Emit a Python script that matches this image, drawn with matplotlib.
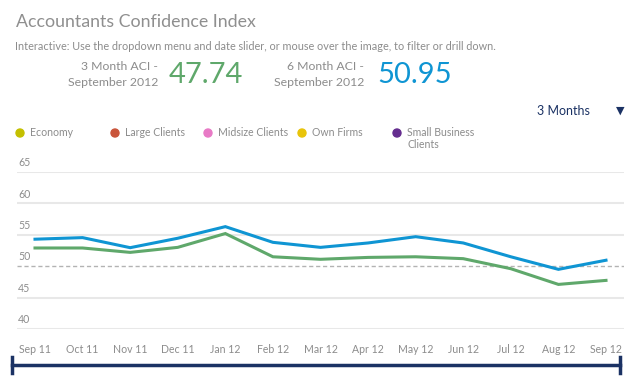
import numpy as np
import matplotlib.pyplot as plt
from matplotlib.patches import Circle

plt.rcParams['font.family'] = ['Lato', 'DejaVu Sans']

months = ['Sep 11', 'Oct 11', 'Nov 11', 'Dec 11', 'Jan 12', 'Feb 12', 'Mar 12',
          'Apr 12', 'May 12', 'Jun 12', 'Jul 12', 'Aug 12', 'Sep 12']
aci_6m = [54.3, 54.55, 52.95, 54.45, 56.3, 53.8, 53.0, 53.7, 54.7, 53.7, 51.5, 49.5, 50.95]
aci_3m = [52.9, 52.9, 52.2, 53.0, 55.2, 51.5, 51.1, 51.4, 51.5, 51.2, 49.6, 47.1, 47.74]
yticks = [40, 45, 50, 55, 60, 65]
legend_names = ['Economy', 'Large Clients', 'Midsize Clients', 'Own Firms', 'Small Business\nClients']
legend_colors = ['#c4c000', '#c9553b', '#e87ac6', '#e8c40a', '#652d8f']

gray = '#8c8c8c'
green = '#5fa86b'
blue = '#0f95d3'
navy = '#1b3264'
narrow = ['DejaVu Sans Condensed', 'Lato', 'DejaVu Sans']

fig = plt.figure(figsize=(6.34, 3.85), dpi=100)
W, H = 634, 385

def fx(px):
    return px / W

def fy(py):
    return 1 - py / H

# header
fig.text(fx(16), fy(22), 'Accountants Confidence Index', fontsize=12.8, color='#8f8f8f', va='center')
fig.text(fx(15), fy(46), 'Interactive: Use the dropdown menu and date slider, or mouse over the image, to filter or drill down.',
         fontsize=7.8, color=gray, va='center')
fig.text(fx(158), fy(67), '3 Month ACI -', fontsize=8.8, color=gray, ha='right', va='center', family=narrow)
fig.text(fx(158), fy(82), 'September 2012', fontsize=8.8, color=gray, ha='right', va='center', family=narrow)
fig.text(fx(169), fy(75), f'{aci_3m[-1]:.2f}', fontsize=21, color=green, va='center', family=narrow)
fig.text(fx(364), fy(67), '6 Month ACI -', fontsize=8.8, color=gray, ha='right', va='center', family=narrow)
fig.text(fx(364), fy(82), 'September 2012', fontsize=8.8, color=gray, ha='right', va='center', family=narrow)
fig.text(fx(377), fy(75), f'{aci_6m[-1]:.2f}', fontsize=21, color=blue, va='center', family=narrow)

# dropdown
fig.text(fx(537), fy(111), '3 Months', fontsize=9, color=navy, va='center')
fig.text(fx(620), fy(111), '\u25bc', fontsize=8, color=navy, ha='center', va='center', family='DejaVu Sans')

# legend
leg_x = [20, 115, 208, 302, 397]
for x, name, c in zip(leg_x, legend_names, legend_colors):
    dot = Circle((x / 100, (H - 133) / 100), 0.04, transform=fig.dpi_scale_trans, color=c)
    fig.patches.append(dot)
    fig.text(fx(x + 10), fy(127), name, fontsize=7.6, color=gray, va='top', linespacing=1.1)

# chart
ax = fig.add_axes([fx(17), fy(329), fx(624) - fx(17), fy(172) - fy(329)])
x = np.arange(len(months))
for t in yticks:
    if t == 50:
        ax.axhline(t, color='#b3b3b3', lw=1, ls=(0, (3, 2)), zorder=1)
    else:
        ax.axhline(t, color='#e8e8e8', lw=1.5, zorder=1)
    ax.text(0.002, t + 0.6, str(t), transform=ax.get_yaxis_transform(),
            fontsize=7.6, color=gray, va='bottom', ha='left')

ax.plot(x, aci_3m, color=green, lw=2.2, zorder=3, solid_joinstyle='miter')
ax.plot(x, aci_6m, color=blue, lw=2.2, zorder=4, solid_joinstyle='miter')

ax.set_xlim(-18 / 47.58, 12 + 18 / 47.58)
ax.set_ylim(40, 65)
ax.set_xticks(x)
ax.set_xticklabels(months, fontsize=7.6, color=gray)
ax.tick_params(axis='x', length=0, pad=11)
ax.set_yticks([])
for s in ax.spines.values():
    s.set_visible(False)
ax.patch.set_visible(False)

# date slider
fig.add_artist(plt.Line2D([fx(12), fx(620)], [fy(365), fy(365)], color=navy, lw=2.5,
                          transform=fig.transFigure))
for px in (12, 620):
    fig.add_artist(plt.Line2D([fx(px), fx(px)], [fy(357), fy(373)], color=navy, lw=2.5,
                              transform=fig.transFigure))

fig.savefig('out.png', dpi=100)
